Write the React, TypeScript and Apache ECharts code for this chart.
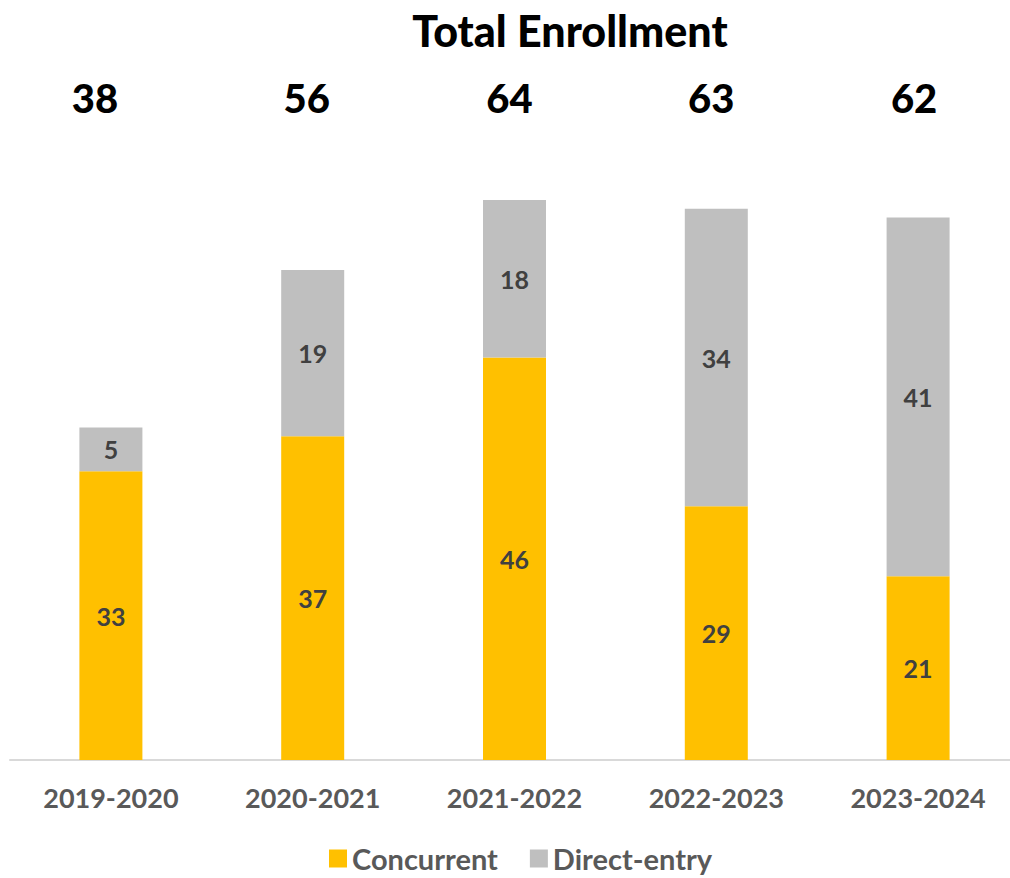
import React, { useEffect, useRef } from "react";
import * as echarts from "echarts";

const categories = ["2019-2020", "2020-2021", "2021-2022", "2022-2023", "2023-2024"];
const concurrent = [33, 37, 46, 29, 21];
const directEntry = [5, 19, 18, 34, 41];
const totals = [38, 56, 64, 63, 62];
const Y_MAX = 70;
// manual horizontal nudge of the total annotations (as placed in the original)
const totalShiftX = [-16, -6, -5, -5, -4];

export default function App() {
  const ref = useRef<HTMLDivElement>(null);
  useEffect(() => {
    if (!ref.current) return;
    const chart = echarts.init(ref.current, null, { renderer: "svg" });
    const font = "Lato, 'Open Sans', sans-serif";
    chart.setOption({
      animation: false,
      backgroundColor: "#ffffff",
      title: {
        text: "Total Enrollment",
        left: 565,
        textAlign: "center",
        top: 4,
        textStyle: { fontFamily: font, fontWeight: 900, fontSize: 43, color: "#000000" },
      },
      legend: {
        data: ["Concurrent", "Direct-entry"],
        bottom: 0,
        left: 324,
        itemWidth: 18,
        itemHeight: 18,
        itemGap: 32,
        icon: "rect",
        textStyle: { fontFamily: font, fontWeight: "bold", fontSize: 29, color: "#595959" },
      },
      grid: { left: 10, top: 147.5, width: 1009, height: 612.5, containLabel: false },
      xAxis: {
        type: "category",
        data: categories,
        axisLine: { lineStyle: { color: "#d9d9d9", width: 2 } },
        axisTick: { show: false },
        axisLabel: {
          margin: 24,
          fontFamily: font,
          fontWeight: "bold",
          fontSize: 27,
          color: "#595959",
        },
      },
      yAxis: {
        type: "value",
        min: 0,
        max: Y_MAX,
        show: false,
        splitLine: { show: false },
      },
      series: [
        {
          name: "Concurrent",
          type: "bar",
          stack: "total",
          barWidth: 63,
          data: concurrent,
          itemStyle: { color: "#FFC000" },
          label: {
            show: true,
            position: "inside",
            fontFamily: font,
            fontWeight: "bold",
            fontSize: 25,
            color: "#404040",
          },
        },
        {
          name: "Direct-entry",
          type: "bar",
          stack: "total",
          barWidth: 63,
          data: directEntry,
          itemStyle: { color: "#BFBFBF" },
          label: {
            show: true,
            position: "inside",
            fontFamily: font,
            fontWeight: "bold",
            fontSize: 25,
            color: "#404040",
          },
        },
        {
          name: "Total",
          type: "scatter",
          symbolSize: 0,
          silent: true,
          itemStyle: { opacity: 1 },
          data: totals.map((t, i) => ({
            value: Y_MAX,
            label: { offset: [totalShiftX[i], -50] },
          })),
          label: {
            show: true,
            position: "inside",
            offset: [0, -50],
            formatter: (p: any) => String(totals[p.dataIndex]),
            fontFamily: font,
            fontWeight: 900,
            fontSize: 40,
            color: "#000000",
            textBorderWidth: 0,
          },
        },
      ],
    });
    return () => chart.dispose();
  }, []);
  return (
    <div style={{ position: "absolute", left: 0, top: 0, width: 1010, height: 878, overflow: "hidden" }}>
      <div ref={ref} style={{ width: 1030, height: 878 }} />
    </div>
  );
}
